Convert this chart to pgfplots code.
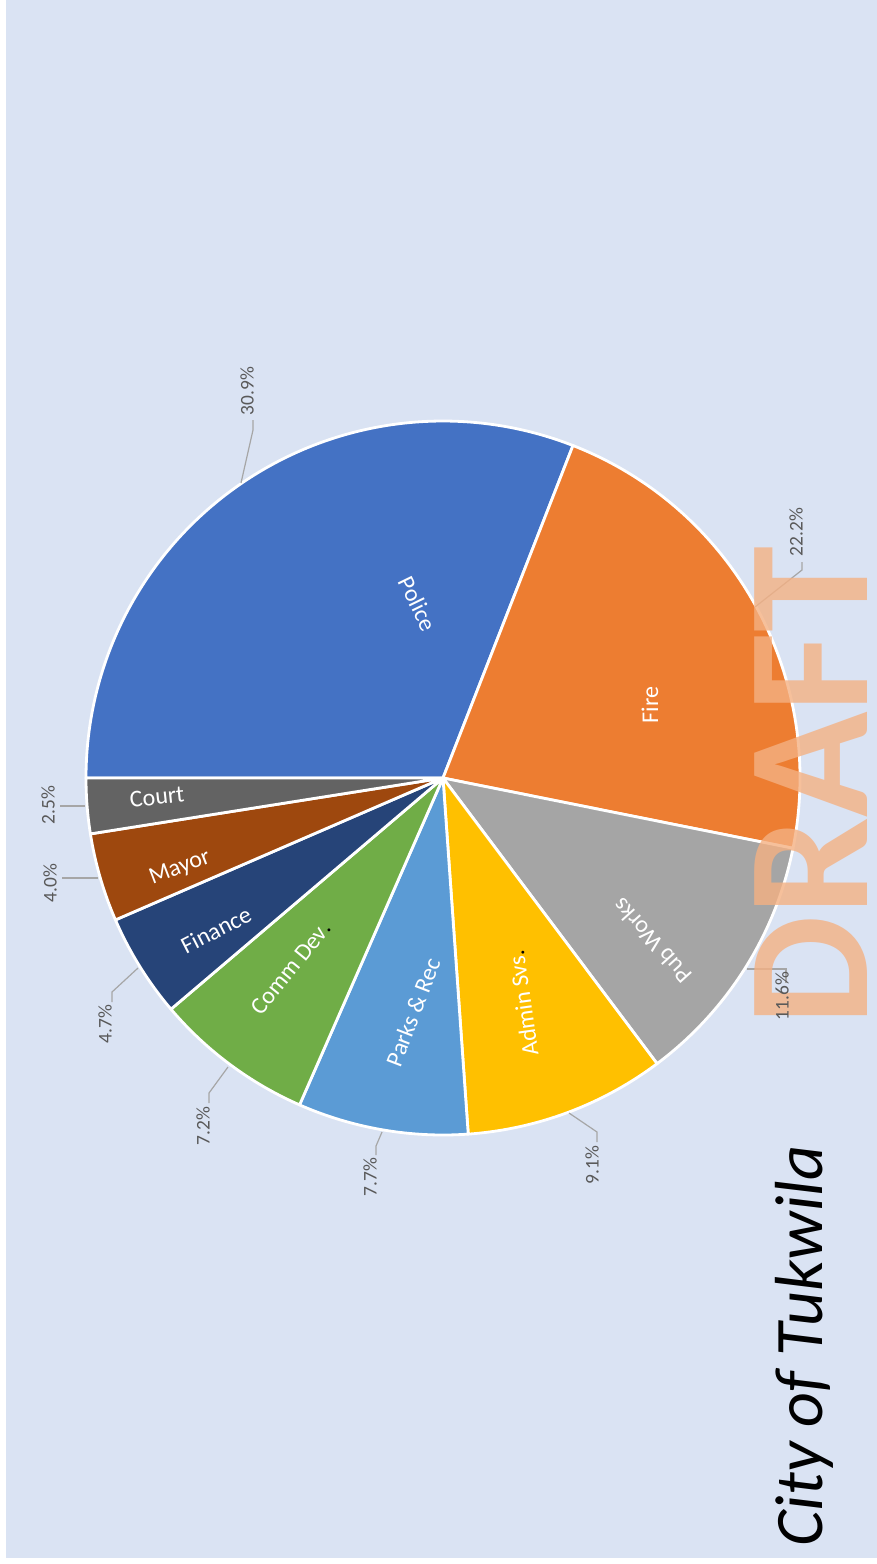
\documentclass[border=0pt]{standalone}
\usepackage{pgfplots}
\pgfplotsset{compat=1.18}
\usepackage{pgfplotstable}
\usepackage{fontspec}
\setmainfont{Carlito}
\definecolor{bg}{HTML}{DAE3F3}
\definecolor{pie0}{HTML}{4472C4}
\definecolor{pie1}{HTML}{ED7D31}
\definecolor{pie2}{HTML}{A5A5A5}
\definecolor{pie3}{HTML}{FFC000}
\definecolor{pie4}{HTML}{5B9BD5}
\definecolor{pie5}{HTML}{70AD47}
\definecolor{pie6}{HTML}{264478}
\definecolor{pie7}{HTML}{9E480E}
\definecolor{pie8}{HTML}{636363}
\definecolor{lbl}{HTML}{595959}
\definecolor{lead}{HTML}{A6A6A6}
\definecolor{draftc}{HTML}{F4B183}
\tikzset{inner lbl/.style={text=white, font=\fontsize{12}{12}\selectfont, inner sep=0pt, anchor=center}}

\pgfplotstableread{
value
30.9
22.2
11.6
9.1
7.7
7.2
4.7
4.0
2.5
}\piedata

\pgfplotstableread{
x y val
247 391 30.9
796 532 22.2
782 996 11.6
592 1165 9.1
370 1177 7.7
203 1126 7.2
105 1024 4.7
50 883 4.0
48 805 2.5
}\pctlabels

\begin{document}
\begin{tikzpicture}
\begin{axis}[
  scale only axis, width=438.5pt, height=782pt,
  xmin=0, xmax=877, ymin=0, ymax=1564, y dir=reverse,
  hide axis, clip=false
]
\pgfplotsextra{
  \fill[white] (axis cs:0,0) rectangle (axis cs:877,1564);
  \fill[bg] (axis cs:6,0) rectangle (axis cs:877,1558);
  \xdef\cumang{180}
  \foreach \i in {0,...,8}{
    \pgfplotstablegetelem{\i}{value}\of\piedata
    \pgfmathsetmacro{\angA}{\cumang}
    \pgfmathsetmacro{\angB}{\cumang-360*\pgfplotsretval/99.9}
    \fill[pie\i, draw=white, line width=1.4pt, line join=round]
      (axis cs:443,778) -- (axis cs:{443+357*cos(\angA)},{778-357*sin(\angA)})
      arc[start angle=\angA, end angle=\angB, radius=178.5pt] -- cycle;
    \xdef\cumang{\angB}
  }
  \node[inner lbl, rotate=-64] at (axis cs:418,604) {Police};
  \node[inner lbl, rotate=90] at (axis cs:650,705) {Fire};
  \node[inner lbl, rotate=132] at (axis cs:652,941) {Pub Works};
  \node[inner lbl, rotate=98] at (axis cs:523,1003) {Admin Svs{\color{black}.}};
  \node[inner lbl, rotate=69] at (axis cs:413,1012) {Parks \& Rec};
  \node[inner lbl, rotate=51] at (axis cs:291,968) {Comm Dev{\color{black}.}};
  \node[inner lbl, rotate=27] at (axis cs:216,930) {Finance};
  \node[inner lbl, rotate=21] at (axis cs:180,868) {Mayor};
  \node[inner lbl, rotate=6] at (axis cs:157,797) {Court};
  \node[text=black, rotate=90, anchor=base, inner sep=0pt,
        font=\fontsize{34}{34}\selectfont\itshape] at (axis cs:822,1346) {City of Tukwila};
}
% leader lines
\addplot[lead, line width=0.6pt, mark=none] coordinates {(241,483) (253,430) (253,420)};
\addplot[lead, line width=0.6pt, mark=none] coordinates {(755,607) (802,570) (802,562)};
\addplot[lead, line width=0.6pt, mark=none] coordinates {(747,969) (786,969) (786,983)};
\addplot[lead, line width=0.6pt, mark=none] coordinates {(569,1113) (597,1132) (597,1142)};
\addplot[lead, line width=0.6pt, mark=none] coordinates {(382,1132) (376,1146) (376,1155)};
\addplot[lead, line width=0.6pt, mark=none] coordinates {(228,1067) (209,1093) (209,1103)};
\addplot[lead, line width=0.6pt, mark=none] coordinates {(138,968) (112,992) (112,1002)};
\addplot[lead, line width=0.6pt, mark=none] coordinates {(98,878) (62,878)};
\addplot[lead, line width=0.6pt, mark=none] coordinates {(85,806) (60,806)};
% percentage labels
\addplot[draw=none, mark=none, point meta=explicit,
  nodes near coords={\pgfmathprintnumber[fixed,fixed zerofill,precision=1,assume math mode=true]{\pgfplotspointmeta}\%},
  nodes near coords style={rotate=90, anchor=center, inner sep=0pt, text=lbl,
    font=\fontsize{9.7}{10}\selectfont}]
  table[x=x, y=y, meta=val] {\pctlabels};
% watermark on top, semi-transparent
\pgfplotsextra{
  \node[text=draftc, opacity=0.8, rotate=90, anchor=base, inner sep=0pt,
        font=\fontsize{87}{87}\selectfont\bfseries] at (axis cs:867,786) {DRAFT};
}
\end{axis}
\end{tikzpicture}
\end{document}
